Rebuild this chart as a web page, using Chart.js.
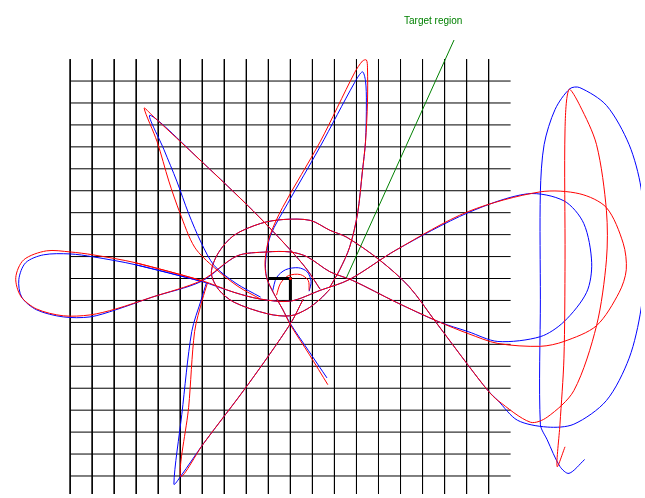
<!DOCTYPE html>
<html>
<head>
<meta charset="utf-8">
<script src="https://cdn.jsdelivr.net/npm/chart.js@4/dist/chart.umd.min.js"></script>
<style>
  html, body { margin: 0; padding: 0; background: #fff; }
  #wrap { width: 645px; height: 498px; position: relative; }
</style>
</head>
<body>
<div id="wrap"><canvas id="pathChart"></canvas></div>
<script>
// grid, in cell units (origin at the start marker)
const gridCols = [-10, -9, -8, -7, -6, -5, -4, -3, -2, -1, 0, 1, 2, 3, 4, 5, 6, 7, 8, 9];
const gridRows = [9, 8, 7, 6, 5, 4, 3, 2, 1, 0, -1, -2, -3, -4, -5, -6, -7, -8, -9];
const gridTop = 10, gridBottom = -10.5, gridLeft = -10, gridRight = 10;

// heading marker and target line
const markerX = [-1, 0, 0];
const markerY = [0, 0, -1];
const targetX = [2.54, 7.43];
const targetY = [0.03, 10.87];
const targetLabel = 'Target region';
const labelPos = [5.16, 11.61];

// blue trajectory, pieces split by null
const blueX = [
  // upper-left petal
  -1.35, -2.47, -3.45, -4.04, -4.62, -5.16, -5.74, -6.37, -4.04, -1.70, 0, 0.76, 1.35, null,
  // top petal and the tail through the centre
  1.79, 2.24, 2.69, 3.05, 3.27, 3.41, 3.45, 3.41, 3.27, 2.91, 1.35, -0.13, -0.90, -1.12, -1.08, -0.76, -0.36, 0, 0.81, 1.66, null,
  // figure eight: left loop and right loop
  -4.04, -7.04, -8.97, -10.0, -11.21, -12.02, -12.33, -12.20, -11.52, -10.31, -9.10, -7.94, -6.28, -4.04, -2.42, -1.08, 0, 0.76, 1.79, 2.83, 4.80, 6.73, 8.07, 9.42, 11.35, 12.42, 13.45, 13.68, 13.32, 12.42, 10.76, 8.07, 4.80, 2.69, 1.35, 0, -1.35, -2.56, -4.04, -7.04, null,
  // lower-left petal
  -3.81, -4.04, -4.48, -4.93, -5.29, -4.98, -3.95, -1.93, 0, 0.58, null,
  // small curl round the start
  -0.81, -0.63, -0.22, 0.36, 0.76, 0.94, 0.85, null,
  // circle round the centre and the tall loop on the right
  1.79, 1.35, 0.76, 0, -1.03, -2.56, -3.27, -3.59, -3.27, -2.56, -1.35, -0.31, 0.90, 1.79, 2.56, 4.04, 5.38, 6.59, 8.07, 8.97, 9.42, 10.31, 11.66, 12.87, 14.35, 15.38, 15.92, 16.14, 15.92, 15.38, 14.35, 13.14, 12.69, 12.02, 11.52, 11.35, 11.35, 11.35, 11.66, 12.24, 12.65, 13.36
];
const blueY = [
  -0.85, -0.22, 0.58, 1.61, 2.96, 4.44, 5.87, 7.44, 5.34, 3.09, 1.30, 0.40, -0.49, null,
  -0.40, 0.40, 1.43, 2.96, 4.89, 6.23, 8.03, 9.01, 9.42, 8.92, 6.01, 3.41, 1.97, 0.85, 0.04, -0.67, -1.39, -2.06, -3.27, -4.53, null,
  -0.13, 0.63, 0.99, 1.12, 1.08, 0.72, -0.04, -0.85, -1.43, -1.75, -1.75, -1.43, -0.85, -0.13, 1.03, 1.21, 1.21, 0.99, 0.31, -0.09, -1.08, -1.97, -2.42, -2.87, -2.65, -1.97, -0.63, 0.72, 2.51, 3.54, 3.86, 3.00, 1.30, -0.04, -0.54, -1.03, -0.94, -0.63, -0.13, 0.63, null,
  -0.18, -0.94, -2.42, -6.19, -9.37, -9.01, -7.53, -4.84, -2.06, -0.94, null,
  -0.58, 0.04, 0.40, 0.49, 0.31, -0.13, -0.58, null,
  -0.49, -0.94, -1.39, -1.70, -1.61, -1.08, -0.49, 0.27, 1.17, 1.97, 2.51, 2.69, 2.65, 2.20, 1.88, 0.85, -0.36, -1.97, -3.95, -5.11, -5.56, -6.46, -6.77, -6.64, -5.56, -3.63, -1.39, 1.30, 4.13, 6.10, 7.89, 8.70, 8.65, 7.71, 6.10, 3.95, -0.94, -6.64, -7.35, -8.57, -8.88, -8.25
];

// red trajectory, pieces split by null
const redX = [
  -1.35, -2.38, -3.45, -4.35, -5.02, -5.52, -6.05, -6.64, -6.28, -4.04, -1.70, 0, 0.76, 1.35, null,
  1.79, 2.24, 2.69, 3.05, 3.27, 3.41, 3.50, 3.50, 3.45, 3.27, 2.91, 1.35, -0.36, -0.95, -1.15, -1.08, -0.76, -0.36, 0, 0.85, 1.70, null,
  -4.04, -7.04, -8.97, -10.0, -11.08, -12.11, -12.47, -12.24, -11.52, -10.31, -9.10, -7.94, -6.28, -4.04, -2.42, -1.08, 0, 0.76, 1.79, 2.83, 4.80, 6.73, 8.07, 9.42, 11.35, 12.42, 13.90, 14.93, 15.25, 15.11, 14.35, 13.14, 11.35, 8.07, 4.80, 2.69, 1.35, 0, -1.35, -2.56, -4.04, -7.04, null,
  -3.77, -3.99, -4.35, -4.62, -4.98, -3.95, -1.93, 0, 0.58, null,
  -0.63, -0.45, -0.09, 0.45, 0.81, 0.85, null,
  1.79, 1.35, 0.76, 0, -1.03, -2.56, -3.27, -3.59, -3.27, -2.56, -1.35, -0.31, 0.90, 1.79, 2.56, 4.04, 5.38, 6.59, 8.07, 8.97, 9.42, 10.90, 11.66, 12.87, 13.90, 14.35, 14.35, 13.90, 13.14, 12.65, 12.47, 12.47, 12.42, 12.24, 12.11, 12.47
];
const redY = [
  -0.94, -0.36, 0.49, 1.43, 3.00, 4.44, 6.23, 7.76, 7.44, 5.34, 3.09, 1.30, 0.40, -0.49, null,
  -0.40, 0.40, 1.43, 2.96, 4.89, 6.23, 8.03, 9.60, 9.96, 9.91, 9.37, 6.23, 3.23, 1.90, 0.80, 0.04, -0.67, -1.39, -2.11, -3.45, -4.84, null,
  -0.09, 0.72, 1.08, 1.21, 1.26, 0.85, 0.04, -0.81, -1.39, -1.70, -1.66, -1.39, -0.85, -0.09, 1.03, 1.21, 1.21, 0.99, 0.31, -0.09, -1.08, -1.97, -2.51, -2.96, -3.09, -2.87, -2.15, -0.63, 0.40, 1.61, 3.23, 3.86, 3.95, 3.05, 1.30, -0.04, -0.54, -1.03, -0.94, -0.63, -0.09, 0.72, null,
  -0.22, -0.94, -2.42, -5.87, -9.01, -7.53, -4.84, -2.06, -0.94, null,
  -0.76, -0.22, 0.13, 0.18, -0.09, -0.54, null,
  -0.49, -0.94, -1.39, -1.70, -1.61, -1.08, -0.49, 0.27, 1.17, 1.97, 2.51, 2.69, 2.65, 2.20, 1.88, 0.85, -0.36, -1.97, -3.95, -5.11, -5.56, -6.55, -6.32, -5.11, -2.15, 0.85, 3.09, 6.10, 7.89, 8.61, 6.82, 0.85, -3.63, -6.64, -8.57, -7.67
];

function toPoints(xs, ys) {
  return xs.map((x, i) => ({ x: x, y: ys[i] }));
}

function gridPoints() {
  const pts = [];
  gridCols.forEach(c => {
    pts.push({ x: c, y: gridTop }, { x: c, y: gridBottom }, { x: null, y: null });
  });
  gridRows.forEach(r => {
    pts.push({ x: gridLeft, y: r }, { x: gridRight, y: r }, { x: null, y: null });
  });
  return pts;
}

const labelPlugin = {
  id: 'targetLabel',
  afterDatasetsDraw(chart) {
    const ctx = chart.ctx;
    const px = chart.scales.x.getPixelForValue(labelPos[0]);
    const py = chart.scales.y.getPixelForValue(labelPos[1]);
    ctx.save();
    ctx.font = '10px "Liberation Sans", Arial, sans-serif';
    ctx.fillStyle = '#008000';
    ctx.textAlign = 'left';
    ctx.textBaseline = 'alphabetic';
    ctx.fillText(targetLabel, px, py);
    ctx.restore();
  }
};

const lineDefaults = { showLine: true, pointRadius: 0, borderWidth: 1, spanGaps: false, tension: 0 };
const curveDefaults = Object.assign({}, lineDefaults, { tension: 0.3 });

new Chart(document.getElementById('pathChart').getContext('2d'), {
  type: 'scatter',
  data: {
    datasets: [
      Object.assign({ label: 'grid', data: gridPoints(), borderColor: '#000000', order: 10 }, lineDefaults),
      Object.assign({ label: 'blue', data: toPoints(blueX, blueY), borderColor: '#0000ff', order: 5 }, curveDefaults),
      Object.assign({ label: 'red', data: toPoints(redX, redY), borderColor: '#ff0000', order: 4 }, curveDefaults),
      Object.assign({ label: 'target', data: toPoints(targetX, targetY), borderColor: '#008000', order: 3 }, lineDefaults),
      Object.assign({}, lineDefaults, { label: 'marker', data: toPoints(markerX, markerY), borderColor: '#000000', borderWidth: 3, order: 2 }),
      { label: 'start', data: [{ x: 0, y: 0 }], pointRadius: 1.5, backgroundColor: '#ff0000', borderWidth: 0, order: 1 }
    ]
  },
  options: {
    responsive: true,
    maintainAspectRatio: false,
    animation: false,
    layout: { padding: 0 },
    elements: { line: { capBezierPoints: false } },
    plugins: { legend: { display: false }, tooltip: { enabled: false } },
    scales: {
      x: { type: 'linear', min: -13.004, max: 15.919, display: false },
      y: { type: 'linear', min: -9.821, max: 12.511, display: false }
    }
  },
  plugins: [labelPlugin]
});
</script>
</body>
</html>
